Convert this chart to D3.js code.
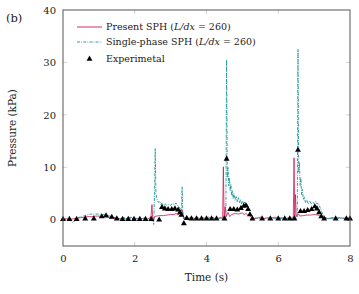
<!DOCTYPE html>
<html>
<head>
<meta charset="utf-8">
<script src="https://cdn.jsdelivr.net/npm/d3@7"></script>
<style>
  body { margin: 0; background: #fff; }
</style>
</head>
<body>
<div id="chart"></div>
<script>
var width = 359;
var height = 294;
var margin = {left: 63, right: 9, top: 10, bottom: 48};
var redColor = '#cc1656';
var tealColor = '#1a9494';
var fontFamily = '"DejaVu Serif", serif';

// x ticks / y ticks
var xTicks = [0, 2, 4, 6, 8];
var yTicks = [0, 10, 20, 30, 40];

// Present SPH (L/dx = 260): [time s, pressure kPa]
var presentSPH = [
  [0,0.1],[0.1,0.2],[0.2,0.1],[0.3,0.2],[0.4,0.3],[0.5,0.4],[0.6,0.5],[0.7,0.6],[0.8,0.6],[0.9,0.7],
  [1.0,0.7],[1.1,0.6],[1.2,0.5],[1.3,0.4],[1.4,0.3],[1.5,0.3],[1.6,0.2],[1.7,0.4],[1.75,0.1],[1.8,0.3],
  [1.9,0.5],[1.95,0.2],[2.0,0.3],[2.1,0.2],[2.15,0.5],[2.2,0.2],[2.3,0.4],[2.35,0.1],[2.4,0.3],[2.45,0.5],
  [2.48,2.9],[2.5,0.2],[2.52,-0.3],[2.55,0.6],[2.6,0.7],[2.7,0.8],[2.8,0.8],[2.9,0.9],[3.0,1.0],[3.1,1.0],
  [3.15,1.2],[3.2,0.9],[3.25,1.3],[3.3,0.8],[3.33,1.8],[3.36,0.2],[3.4,0.5],[3.45,0.1],[3.5,0.3],[3.6,0.4],
  [3.7,0.2],[3.75,0.5],[3.8,0.2],[3.9,0.4],[4.0,0.2],[4.05,0.5],[4.1,0.3],[4.2,0.4],[4.25,0.1],[4.3,0.3],
  [4.4,0.4],[4.45,0.3],[4.47,10.1],[4.49,0.4],[4.52,2.5],[4.55,0.6],[4.6,1.4],[4.65,0.6],[4.7,1.0],[4.8,1.2],
  [4.9,1.1],[5.0,1.3],[5.05,1.0],[5.1,1.2],[5.15,0.9],[5.2,0.8],[5.25,0.4],[5.3,0.2],[5.4,0.3],[5.5,0.5],
  [5.6,0.2],[5.7,0.4],[5.8,0.3],[5.9,0.5],[6.0,0.3],[6.1,0.4],[6.2,0.2],[6.3,0.4],[6.4,0.3],[6.42,0.5],
  [6.44,11.8],[6.46,0.5],[6.48,4.8],[6.5,0.6],[6.55,1.2],[6.6,0.7],[6.7,0.8],[6.8,0.9],[6.9,0.9],[7.0,1.0],
  [7.1,0.9],[7.15,0.8],[7.2,0.6],[7.25,0.3],[7.3,0.4],[7.4,0.2],[7.5,0.4],[7.6,0.3],[7.7,0.4],[7.8,0.3],
  [7.9,0.3],[8.0,0.3]
];

// Single-phase SPH (L/dx = 260)
var singlePhaseSPH = [
  [0,0],[0.1,0.1],[0.2,0.0],[0.28,-0.6],[0.35,0.2],[0.4,0.3],[0.5,0.6],[0.6,0.8],[0.7,1.0],[0.8,1.1],
  [0.9,1.1],[1.0,1.1],[1.1,1.0],[1.2,0.9],[1.3,0.7],[1.4,0.5],[1.5,0.3],[1.6,0.2],[1.7,0.3],[1.8,0.2],
  [1.9,0.3],[2.0,0.2],[2.1,0.3],[2.2,0.2],[2.3,0.3],[2.4,0.2],[2.5,0.1],[2.53,-0.9],[2.55,5],[2.57,13.6],
  [2.59,5],[2.61,4.2],[2.63,3.8],[2.66,3.3],[2.7,3.5],[2.73,2.9],[2.76,3.2],[2.8,2.8],[2.85,3],[2.9,2.7],
  [2.95,2.9],[3.0,2.8],[3.05,3.1],[3.1,2.9],[3.15,3.2],[3.2,2.7],[3.25,2.3],[3.28,2.0],[3.3,1.5],[3.32,6.3],
  [3.34,0.8],[3.37,0.2],[3.4,0.4],[3.5,0.2],[3.6,0.3],[3.7,0.2],[3.8,0.3],[3.9,0.2],[4.0,0.3],[4.1,0.2],
  [4.2,0.3],[4.3,0.2],[4.4,0.3],[4.5,0.3],[4.54,0.5],[4.56,30.5],[4.58,8],[4.6,10],[4.62,6.5],[4.64,8],
  [4.66,5.5],[4.68,6.8],[4.7,4.6],[4.72,5.6],[4.74,4.0],[4.77,5],[4.8,3.7],[4.83,4.5],[4.86,3.4],[4.89,4.2],
  [4.92,3.2],[4.95,3.9],[4.98,3.0],[5.01,3.6],[5.04,2.8],[5.07,3.4],[5.1,2.6],[5.13,3.0],[5.16,2.2],[5.2,1.8],
  [5.23,1.4],[5.26,0.7],[5.3,0.4],[5.4,0.3],[5.5,0.2],[5.6,0.3],[5.7,0.2],[5.8,0.3],[5.9,0.2],[6.0,0.3],
  [6.1,0.2],[6.2,0.3],[6.3,0.2],[6.4,0.3],[6.5,0.3],[6.53,0.5],[6.55,32.5],[6.57,9],[6.59,11],[6.61,6.5],
  [6.63,8],[6.65,4.8],[6.67,5.8],[6.7,3.8],[6.73,4.4],[6.76,3.2],[6.8,3.7],[6.84,3.0],[6.88,3.5],[6.92,3.0],
  [6.96,3.4],[7.0,3.1],[7.04,3.5],[7.08,3.0],[7.12,3.2],[7.16,2.4],[7.2,1.8],[7.24,1.0],[7.28,0.5],[7.35,0.3],
  [7.5,0.2],[7.6,0.3],[7.7,0.2],[7.8,0.3],[7.9,0.2],[8.0,0.3]
];

// Experimental measurements
var experimental = [
  [0,0.1],[0.18,0.1],[0.38,0.1],[0.62,0.2],[0.86,0.2],[1.08,0.6],[1.2,0.8],[1.36,0.5],[1.5,0.2],[1.66,0.1],
  [1.82,0.1],[1.98,0.1],[2.14,0.1],[2.3,0.1],[2.46,0.1],[2.68,0.0],[2.76,2.4],[2.84,2.1],[2.93,2.0],[3.03,2.0],
  [3.12,2.1],[3.21,1.9],[3.26,1.4],[3.3,0.9],[3.37,-0.7],[3.45,0.3],[3.58,0.2],[3.72,0.2],[3.86,0.2],[4.0,0.2],
  [4.14,0.2],[4.28,0.2],[4.5,0.2],[4.56,11.6],[4.66,2.0],[4.76,2.0],[4.86,1.9],[4.96,2.2],[5.04,2.6],[5.1,2.7],
  [5.16,2.0],[5.21,1.0],[5.28,0.2],[5.55,0.2],[5.78,0.2],[6.0,0.2],[6.18,0.2],[6.32,0.2],[6.45,0.2],[6.55,13.3],
  [6.62,1.6],[6.72,1.6],[6.82,1.8],[6.93,2.0],[7.02,2.5],[7.08,2.1],[7.14,1.4],[7.2,0.6],[7.28,0.2],[7.6,0.2],
  [7.9,0.2],[8.0,0.2]
];

var svg = d3.select('#chart').append('svg')
      .attr('width', width)
      .attr('height', height)
      .style('font-family', fontFamily);

var xScale = d3.scaleLinear()
      .domain([0, 8])
      .range([margin.left, width - margin.right]);

var yScale = d3.scaleLinear()
      .domain([-5, 40])
      .range([height - margin.bottom, margin.top]);

var x0 = xScale.range()[0], x1 = xScale.range()[1];
var y0 = yScale.range()[0], y1 = yScale.range()[1];

// inward grey ticks on all four sides
var tickLen = 4;
var ticks = svg.append('g').attr('stroke', '#c8c8c8').attr('stroke-width', 0.8);
xTicks.slice(1, -1).forEach(function(t) {
  ticks.append('line').attr('x1', xScale(t)).attr('x2', xScale(t)).attr('y1', y0).attr('y2', y0 - tickLen);
  ticks.append('line').attr('x1', xScale(t)).attr('x2', xScale(t)).attr('y1', y1).attr('y2', y1 + tickLen);
});
yTicks.slice(1, -1).forEach(function(t) {
  ticks.append('line').attr('x1', x0).attr('x2', x0 + tickLen).attr('y1', yScale(t)).attr('y2', yScale(t));
  ticks.append('line').attr('x1', x1).attr('x2', x1 - tickLen).attr('y1', yScale(t)).attr('y2', yScale(t));
});

// axes with labels only
var xAxis = d3.axisBottom(xScale).tickValues(xTicks).tickSize(0).tickPadding(9).tickFormat(d3.format('d'));
var yAxis = d3.axisLeft(yScale).tickValues(yTicks).tickSize(0).tickPadding(7).tickFormat(d3.format('d'));

var gx = svg.append('g').attr('transform', 'translate(0,' + y0 + ')').call(xAxis);
var gy = svg.append('g').attr('transform', 'translate(' + x0 + ',0)').call(yAxis);
[gx, gy].forEach(function(g) {
  g.attr('font-family', fontFamily).attr('font-size', 10);
  g.select('.domain').remove();
  g.selectAll('text').attr('fill', '#222');
});

// series
var line = d3.line()
      .x(d => xScale(d[0]))
      .y(d => yScale(d[1]));

var plot = svg.append('g');

plot.append('path')
      .datum(presentSPH)
      .attr('d', line)
      .attr('fill', 'none')
      .attr('stroke', redColor)
      .attr('stroke-width', 0.8);

plot.append('path')
      .datum(singlePhaseSPH)
      .attr('d', line)
      .attr('fill', 'none')
      .attr('stroke', tealColor)
      .attr('stroke-width', 0.9)
      .attr('stroke-dasharray', '3,1.2,0.8,1.2');

var tri = d3.symbol().type(d3.symbolTriangle).size(15);
plot.selectAll('.exp')
      .data(experimental)
  .enter()
      .append('path')
      .attr('class', 'exp')
      .attr('d', tri)
      .attr('transform', d => 'translate(' + xScale(d[0]) + ',' + yScale(d[1]) + ')')
      .attr('fill', '#000');

// frame
svg.append('rect')
      .attr('x', x0).attr('y', y1)
      .attr('width', x1 - x0).attr('height', y0 - y1)
      .attr('fill', 'none')
      .attr('stroke', '#555')
      .attr('stroke-width', 1);

// legend
var legend = svg.append('g').attr('font-size', 9.5).attr('fill', '#222');
var legendRows = [
  {type: 'red', y: 27, label: ['Present SPH (', 'L/dx', ' = 260)']},
  {type: 'teal', y: 42, label: ['Single-phase SPH (', 'L/dx', ' = 260)']},
  {type: 'exp', y: 59, label: ['Experimetal']}
];
legendRows.forEach(function(r) {
  if (r.type === 'red') {
    legend.append('line').attr('x1', 77).attr('x2', 102).attr('y1', r.y).attr('y2', r.y)
          .attr('stroke', redColor).attr('stroke-width', 0.9);
  } else if (r.type === 'teal') {
    legend.append('line').attr('x1', 77).attr('x2', 102).attr('y1', r.y).attr('y2', r.y)
          .attr('stroke', tealColor).attr('stroke-width', 0.9).attr('stroke-dasharray', '3,1.2,0.8,1.2');
  } else {
    legend.append('path').attr('d', tri).attr('transform', 'translate(89.5,' + r.y + ')').attr('fill', '#000');
  }
  var t = legend.append('text').attr('x', 106).attr('y', r.y).attr('dy', '0.35em');
  r.label.forEach(function(s, i) {
    t.append('tspan').text(s).attr('font-style', i === 1 ? 'italic' : 'normal');
  });
});

// titles
svg.append('text')
      .attr('x', 6).attr('y', 22)
      .attr('font-size', 11.5)
      .attr('fill', '#222')
      .text('(b)');

svg.append('text')
      .attr('transform', 'rotate(-90)')
      .attr('x', -(y0 + y1) / 2)
      .attr('y', 16)
      .attr('text-anchor', 'middle')
      .attr('font-size', 10.5)
      .attr('fill', '#222')
      .text('Pressure (kPa)');

svg.append('text')
      .attr('x', (x0 + x1) / 2)
      .attr('y', 281)
      .attr('text-anchor', 'middle')
      .attr('font-size', 10.5)
      .attr('fill', '#222')
      .text('Time (s)');
</script>
</body>
</html>
